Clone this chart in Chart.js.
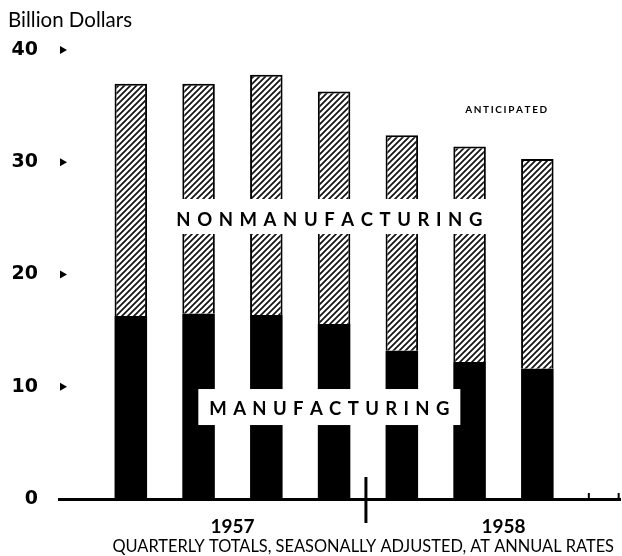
<!DOCTYPE html>
<html><head><meta charset="utf-8">
<script src="https://cdn.jsdelivr.net/npm/chart.js@4.4.0/dist/chart.umd.min.js"></script>
<style>html,body{margin:0;padding:0;background:#fff;}#wrap{width:622px;height:556px;}</style>
</head><body><div id="wrap"><canvas id="c" width="622" height="556"></canvas></div>
<script>
// ---- data ----
const QUARTERS = ['1957 Q1','1957 Q2','1957 Q3','1957 Q4','1958 Q1','1958 Q2','1958 Q3'];
const QUARTER_POS = [1, 2, 3, 4, 5, 6, 7];
const MANUFACTURING = [16.3, 16.5, 16.4, 15.6, 13.2, 12.2, 11.6];
const NONMANUFACTURING = [20.7, 20.5, 21.4, 20.7, 19.2, 19.2, 18.7];
const Y_TICKS = [0, 10, 20, 30, 40];
const YEAR_LABELS = ['1957', '1958'];
const YEAR_POS = [2.5, 6.5];
const Y_TITLE = 'Billion Dollars';
const X_TITLE = 'QUARTERLY TOTALS, SEASONALLY ADJUSTED, AT ANNUAL RATES';
const SERIES_NAMES = ['MANUFACTURING', 'NONMANUFACTURING'];
const NOTE = 'ANTICIPATED';

const FONT = 'Lato, "Open Sans", sans-serif';
const NUM_FONT = '"DejaVu Sans", sans-serif';

function hatch() {
  const s = 6;
  const c = document.createElement('canvas');
  c.width = s; c.height = s;
  const g = c.getContext('2d');
  g.fillStyle = '#fff'; g.fillRect(0, 0, s, s);
  g.strokeStyle = '#111'; g.lineWidth = 1.7;
  g.beginPath();
  g.moveTo(-1, s + 1); g.lineTo(s + 1, -1);
  g.moveTo(-1, 1); g.lineTo(1, -1);
  g.moveTo(s - 1, s + 1); g.lineTo(s + 1, s - 1);
  g.stroke();
  return g.createPattern(c, 'repeat');
}

function spaced(ctx, text, cx, baseY, targetW) {
  const chars = [...text];
  const ws = chars.map(ch => ctx.measureText(ch).width);
  const sum = ws.reduce((a, b) => a + b, 0);
  const sp = (targetW - sum) / (chars.length - 1);
  let xx = cx - targetW / 2;
  ctx.textAlign = 'left';
  ctx.textBaseline = 'alphabetic';
  chars.forEach((ch, i) => { ctx.fillText(ch, xx, baseY); xx += ws[i] + sp; });
}

const deco = {
  id: 'deco',
  afterDatasetsDraw(chart) {
    const ctx = chart.ctx, xs = chart.scales.x, ys = chart.scales.y;
    ctx.save();
    const labs = [
      { t: SERIES_NAMES[1], x: 3.93, y: 24.32, w: 306, padX: 12, up: 27, down: 8 },
      { t: SERIES_NAMES[0], x: 3.93, y: 7.48, w: 240, padX: 11, up: 26, down: 10 }
    ];
    ctx.font = 'bold 18.5px ' + FONT;
    labs.forEach(l => {
      const cx = xs.getPixelForValue(l.x), by = ys.getPixelForValue(l.y);
      ctx.fillStyle = '#fff';
      ctx.fillRect(cx - l.w / 2 - l.padX, by - l.up, l.w + 2 * l.padX, l.up + l.down);
      ctx.fillStyle = '#000';
      spaced(ctx, l.t, cx, by, l.w);
    });
    ctx.restore();
  },
  afterDraw(chart) {
    const ctx = chart.ctx, xs = chart.scales.x, ys = chart.scales.y;
    const area = chart.chartArea;
    ctx.save();
    ctx.fillStyle = '#000';
    ctx.font = '20.5px ' + FONT;
    ctx.textAlign = 'left'; ctx.textBaseline = 'alphabetic';
    ctx.fillText(Y_TITLE, 8, 27);
    Y_TICKS.forEach(v => {
      if (v === 0) return;
      const yp = ys.getPixelForValue(v);
      ctx.beginPath();
      ctx.moveTo(area.left + 1, yp - 4);
      ctx.lineTo(area.left + 8, yp);
      ctx.lineTo(area.left + 1, yp + 4);
      ctx.closePath(); ctx.fill();
    });
    const y0 = ys.getPixelForValue(0);
    ctx.strokeStyle = '#000';
    ctx.lineWidth = 3;
    const dx = xs.getPixelForValue(4.47);
    ctx.beginPath(); ctx.moveTo(dx, y0 - 22); ctx.lineTo(dx, y0 + 24); ctx.stroke();
    ctx.lineWidth = 2;
    [7.76, 8.2].forEach(v => {
      const px = xs.getPixelForValue(v);
      ctx.beginPath(); ctx.moveTo(px, y0 - 6); ctx.lineTo(px, y0); ctx.stroke();
    });
    ctx.font = 'bold 10px ' + FONT;
    spaced(ctx, NOTE, xs.getPixelForValue(6.54), ys.getPixelForValue(34.39), 82);
    // x-axis caption
    ctx.font = '16.4px ' + FONT;
    ctx.textAlign = 'center'; ctx.textBaseline = 'alphabetic';
    ctx.fillText(X_TITLE, xs.getPixelForValue(4.43), y0 + 53);
    ctx.restore();
  }
};

const pattern = hatch();

new Chart(document.getElementById('c'), {
  type: 'bar',
  data: {
    datasets: [
      {
        label: SERIES_NAMES[0],
        data: QUARTER_POS.map((x, i) => ({ x, y: MANUFACTURING[i] })),
        backgroundColor: '#000', borderColor: '#000', borderWidth: 0,
        barPercentage: 0.48, categoryPercentage: 1
      },
      {
        label: SERIES_NAMES[1],
        data: QUARTER_POS.map((x, i) => ({ x, y: NONMANUFACTURING[i] })),
        backgroundColor: pattern, borderColor: '#000', borderWidth: 2, borderSkipped: 'bottom',
        barPercentage: 0.48, categoryPercentage: 1
      }
    ]
  },
  options: {
    responsive: false, animation: false, devicePixelRatio: 1,
    layout: { padding: { top: 50, right: 2, left: 0, bottom: 0 } },
    plugins: { legend: { display: false }, tooltip: { enabled: false }, title: { display: false } },
    scales: {
      x: {
        type: 'linear', stacked: true, min: -0.06, max: 8.22, offset: false,
        afterBuildTicks: s => { s.ticks = YEAR_POS.map(v => ({ value: v })); },
        afterFit: s => { s.height = 57; },
        ticks: {
          callback: (v, i) => YEAR_LABELS[i], color: '#000', padding: 16,
          font: { family: FONT, size: 19, weight: 'bold' }, maxRotation: 0, autoSkip: false
        },
        grid: { display: false, drawTicks: false, offset: false },
        border: { display: true, color: '#000', width: 3 },
        title: { display: false }
      },
      y: {
        stacked: true, min: 0, max: 40,
        afterBuildTicks: s => { s.ticks = Y_TICKS.map(v => ({ value: v })); },
        afterFit: s => { s.width = 59; },
        ticks: { color: '#000', padding: 21, font: { family: NUM_FONT, size: 19, weight: 'bold' } },
        grid: { display: false, drawTicks: false },
        border: { display: false }
      }
    }
  },
  plugins: [deco]
});
</script></body></html>
